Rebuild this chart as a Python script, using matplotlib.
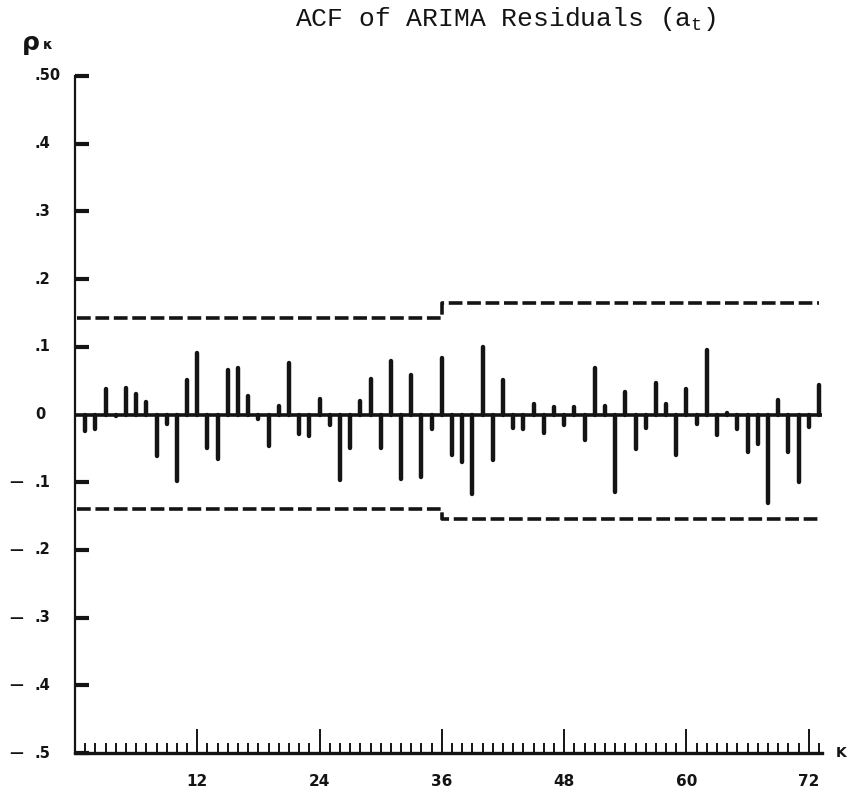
import matplotlib.pyplot as plt
import matplotlib.transforms as mtransforms
import numpy as np

plt.rcParams["mathtext.fontset"] = "custom"
plt.rcParams["mathtext.rm"] = "Liberation Mono"

ink = "#141414"

# residual autocorrelations, lags 1..73
lags = np.arange(1, 74)
acf = [
    -0.024, -0.022, 0.037, -0.002, 0.039, 0.030, 0.019, -0.061, -0.014, -0.098,
    0.051, 0.091, -0.049, -0.066, 0.066, 0.069, 0.028, -0.007, -0.047, 0.012,
    0.076, -0.029, -0.032, 0.023, -0.016, -0.097, -0.050, 0.020, 0.053, -0.050,
    0.079, -0.096, 0.059, -0.092, -0.021, 0.084, -0.060, -0.070, -0.118, 0.100,
    -0.067, 0.051, -0.020, -0.021, 0.015, -0.028, 0.011, -0.015, 0.011, -0.038,
    0.068, 0.012, -0.115, 0.033, -0.051, -0.020, 0.047, 0.016, -0.060, 0.038,
    -0.014, 0.095, -0.031, 0.002, -0.021, -0.056, -0.044, -0.131, 0.021, -0.056,
    -0.100, -0.018, 0.044,
]

# confidence band (step at lag 36)
band_lags = [0.2, 36, 73]
band_upper = [0.142, 0.164, 0.164]
band_lower = [-0.139, -0.155, -0.155]

x_ticks = [12, 24, 36, 48, 60, 72]
y_ticks = [0.5, 0.4, 0.3, 0.2, 0.1, 0.0, -0.1, -0.2, -0.3, -0.4, -0.5]
y_labels = [".50", ".4", ".3", ".2", ".1", "0", ".1", ".2", ".3", ".4", ".5"]

W, H = 850, 796
fig = plt.figure(figsize=(W / 100, H / 100), dpi=100)
ax = fig.add_axes([75 / W, 43 / H, 747 / W, 677 / H])
ax.set_xlim(0, 73.3)
ax.set_ylim(-0.5, 0.5)

# zero line and spikes
ax.axhline(0, color=ink, lw=2.6, zorder=3)
spikes = ax.vlines(lags, 0, acf, color=ink, lw=3.2, zorder=3)
spikes.set_capstyle("round")

# confidence limits
for band in (band_upper, band_lower):
    ax.step(band_lags, band, where="post", color=ink, lw=2.6,
            dashes=(3.8, 1.3), solid_capstyle="butt", zorder=2)

for s in ("top", "right"):
    ax.spines[s].set_visible(False)
ax.spines["left"].set_linewidth(1.6)
ax.spines["bottom"].set_linewidth(2.4)
ax.spines["left"].set_color(ink)
ax.spines["bottom"].set_color(ink)

# x axis ticks: every lag, long ticks every 12
ax.set_xticks(x_ticks)
ax.set_xticks(lags, minor=True)
ax.set_xticklabels([str(t) for t in x_ticks], fontsize=11, fontweight="bold")
ax.tick_params(axis="x", which="major", direction="in", length=17, width=1.4,
               pad=15, colors=ink)
ax.tick_params(axis="x", which="minor", direction="in", length=7, width=1.4,
               colors=ink)

# y axis ticks drawn inward, labels placed by hand
ax.set_yticks([t for t in y_ticks if t != 0])
ax.set_yticklabels([])
ax.tick_params(axis="y", direction="in", length=10, width=3, colors=ink)

trans = mtransforms.blended_transform_factory(ax.transAxes, ax.transData)
for val, lab in zip(y_ticks, y_labels):
    ax.text(-40 / 747, val, lab, transform=trans, ha="left", va="center",
            fontsize=10.5, fontweight="bold", color=ink)
    if val < 0:
        ax.text(-66 / 747, val, "—", transform=trans, ha="left", va="center",
                fontsize=10, fontweight="bold", color=ink)

ax.text(1 + 14 / 747, -0.5, "K", transform=trans,
        ha="left", va="center", fontsize=10, fontweight="bold", color=ink)

fig.text(506 / W, 1 - 19 / H, r"ACF of ARIMA Residuals (a$_\mathrm{t}$)",
         ha="center", va="center", fontsize=19, family="Liberation Mono",
         color=ink)
fig.text(22 / W, 1 - 43 / H, "ρ", ha="left", va="center", fontsize=18,
         fontweight="bold", color=ink)
fig.text(43 / W, 1 - 45 / H, "κ", ha="left", va="center", fontsize=10,
         fontweight="bold", color=ink)

fig.savefig("out.png", dpi=100)
